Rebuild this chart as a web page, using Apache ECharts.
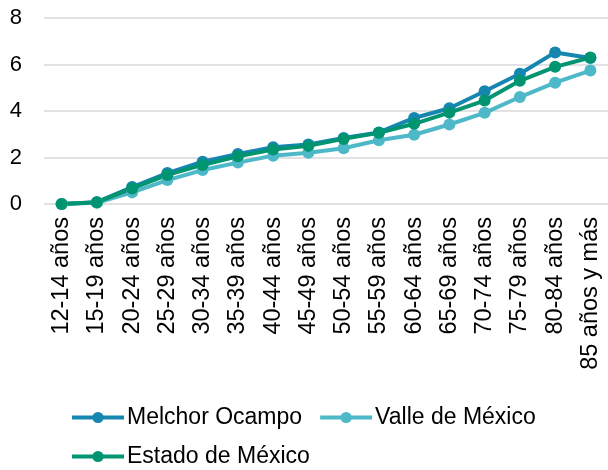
<!DOCTYPE html>
<html>
<head>
<meta charset="utf-8">
<script src="https://cdn.jsdelivr.net/npm/echarts@6/dist/echarts.min.js"></script>
<style>
  html, body { margin: 0; padding: 0; background: #fff; }
  #chart { width: 608px; height: 470px; }
</style>
</head>
<body>
<div id="chart"></div>
<script>
var categories = ['12-14 años', '15-19 años', '20-24 años', '25-29 años', '30-34 años', '35-39 años',
  '40-44 años', '45-49 años', '50-54 años', '55-59 años', '60-64 años', '65-69 años',
  '70-74 años', '75-79 años', '80-84 años', '85 años y más'];
var melchorOcampo = [0, 0.08, 0.73, 1.33, 1.82, 2.15, 2.44, 2.56, 2.84, 3.08, 3.7, 4.12, 4.85, 5.6, 6.52, 6.28];
var valleDeMexico = [0, 0.05, 0.5, 1.03, 1.46, 1.78, 2.08, 2.2, 2.4, 2.74, 2.98, 3.42, 3.92, 4.6, 5.22, 5.74];
var estadoDeMexico = [0, 0.08, 0.67, 1.25, 1.68, 2.05, 2.34, 2.5, 2.8, 3.06, 3.45, 3.93, 4.45, 5.3, 5.9, 6.3];
var seriesNames = ['Melchor Ocampo', 'Valle de México', 'Estado de México'];
var yTicks = [0, 2, 4, 6, 8];

var font = "'Liberation Sans', Arial, sans-serif";
var colors = ['#1586b0', '#4db8c8', '#019470'];

var myChart = echarts.init(document.getElementById('chart'));

function lineSeries(name, data, color) {
  return {
    name: name,
    type: 'line',
    data: data,
    symbol: 'circle',
    symbolSize: 12,
    lineStyle: { width: 4, color: color },
    itemStyle: { color: color },
    emphasis: { disabled: true }
  };
}

var option = {
  animation: false,
  color: colors,
  textStyle: { fontFamily: font },
  grid: { left: 44, right: -2, top: 18, bottom: 266, containLabel: false },
  legend: {
    left: 65,
    top: 401,
    width: 480,
    itemWidth: 52,
    itemHeight: 14,
    itemGap: 16,
    lineStyle: { width: 4 },
    textStyle: { fontFamily: font, fontSize: 23, color: '#000', padding: [0, 0, 0, -2] },
    data: seriesNames
  },
  xAxis: {
    type: 'category',
    data: categories,
    boundaryGap: true,
    axisLine: { show: false },
    axisTick: { show: false },
    axisLabel: { rotate: 90, margin: 13, interval: 0, fontSize: 23.5, color: '#000', fontFamily: font }
  },
  yAxis: {
    type: 'value',
    min: yTicks[0],
    max: yTicks[yTicks.length - 1],
    interval: 2,
    axisLine: { show: false },
    axisTick: { show: false },
    axisLabel: { margin: 22, fontSize: 22, color: '#000', fontFamily: font },
    splitLine: { lineStyle: { color: '#d9d9d9', width: 1.5 } }
  },
  series: [
    lineSeries(seriesNames[0], melchorOcampo, colors[0]),
    lineSeries(seriesNames[1], valleDeMexico, colors[1]),
    lineSeries(seriesNames[2], estadoDeMexico, colors[2])
  ]
};
myChart.setOption(option);
</script>
</body>
</html>
